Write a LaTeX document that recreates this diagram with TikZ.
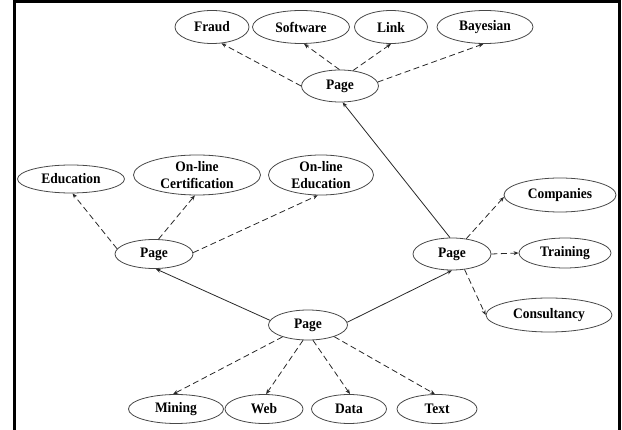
\documentclass[tikz,border=0pt]{standalone}
\usepackage{fontspec}
\setmainfont[FakeStretch=0.93]{Liberation Serif}
\usetikzlibrary{arrows.meta,shapes.geometric}
\definecolor{lineclr}{RGB}{40,40,40}
\tikzset{
  oval/.style={ellipse, draw=lineclr!85, line width=0.8pt, inner sep=0pt,
    font=\bfseries\fontsize{14.5}{17.5}\selectfont, align=center, text=black},
  link/.style={draw=lineclr, line width=0.8pt, -{Stealth[length=5pt,width=4pt]}},
  dlink/.style={link, dash pattern=on 6pt off 3.5pt},
}
\begin{document}
\begin{tikzpicture}[x=1pt,y=-1pt]
\useasboundingbox (0,0) rectangle (622,430);
% frame
\draw[line width=3pt] (14.5,432) -- (14.5,1.5) -- (619.5,1.5) -- (619.5,432);

% top cluster
\node[oval, minimum width=74pt, minimum height=33pt] (fraud) at (212,27) {Fraud};
\node[oval, minimum width=97pt, minimum height=33pt] (soft) at (301,27) {Software};
\node[oval, minimum width=73pt, minimum height=33pt] (lnk) at (391,27) {Link};
\node[oval, minimum width=96pt, minimum height=33pt] (bayes) at (485,27) {Bayesian};
\node[oval, minimum width=77pt, minimum height=32pt] (ptop) at (340,86) {Page};

% left cluster
\node[oval, minimum width=107pt, minimum height=28pt] (edu) at (71,179) {Education};
\node[oval, minimum width=127pt, minimum height=40pt] (cert) at (197,175) {On-line\\Certification};
\node[oval, minimum width=105pt, minimum height=40pt] (onedu) at (321,175) {On-line\\Education};
\node[oval, minimum width=78pt, minimum height=29pt] (pleft) at (154,254) {Page};

% right cluster
\node[oval, minimum width=78pt, minimum height=32pt] (pright) at (452,254) {Page};
\node[oval, minimum width=112pt, minimum height=34pt] (comp) at (560,195) {Companies};
\node[oval, minimum width=92pt, minimum height=30pt] (train) at (565,253) {Training};
\node[oval, minimum width=126pt, minimum height=34pt] (cons) at (549,315) {Consultancy};

% bottom cluster
\node[oval, minimum width=79pt, minimum height=30pt] (pbot) at (308,325) {Page};
\node[oval, minimum width=95pt, minimum height=29pt] (mining) at (176,409) {Mining};
\node[oval, minimum width=78pt, minimum height=29pt] (web) at (264,409) {Web};
\node[oval, minimum width=75pt, minimum height=29pt] (data) at (349,409) {Data};
\node[oval, minimum width=80pt, minimum height=29pt] (txt) at (437,409) {Text};

% solid links between pages
\draw[link] (pbot.173) -- (pleft.-83);
\draw[link] (pbot.4) -- (pright.-90);
\draw[link] (pright.97) -- (ptop.-81);

% dashed links to terms
\draw[dlink] (ptop.180) -- (fraud.-60);
\draw[dlink] (ptop.92) -- (soft.-80);
\draw[dlink] (ptop.50) -- (lnk.-90);
\draw[dlink] (ptop.6) -- (bayes.-95);

\draw[dlink] (pleft.172) -- (edu.-84);
\draw[dlink] (pleft.73) -- (cert.-96);
\draw[dlink] (pleft.2) -- (onedu.-99);

\draw[dlink] (pright.47) -- (comp.182);
\draw[dlink] (pright.0) -- (train.180);
\draw[dlink] (pright.-51) -- (cons.180);

\draw[dlink] (pbot.-155) -- (mining.101);
\draw[dlink] (pbot.-108) -- (web.82);
\draw[dlink] (pbot.-72) -- (data.86);
\draw[dlink] (pbot.-24) -- (txt.98);
\end{tikzpicture}
\end{document}
